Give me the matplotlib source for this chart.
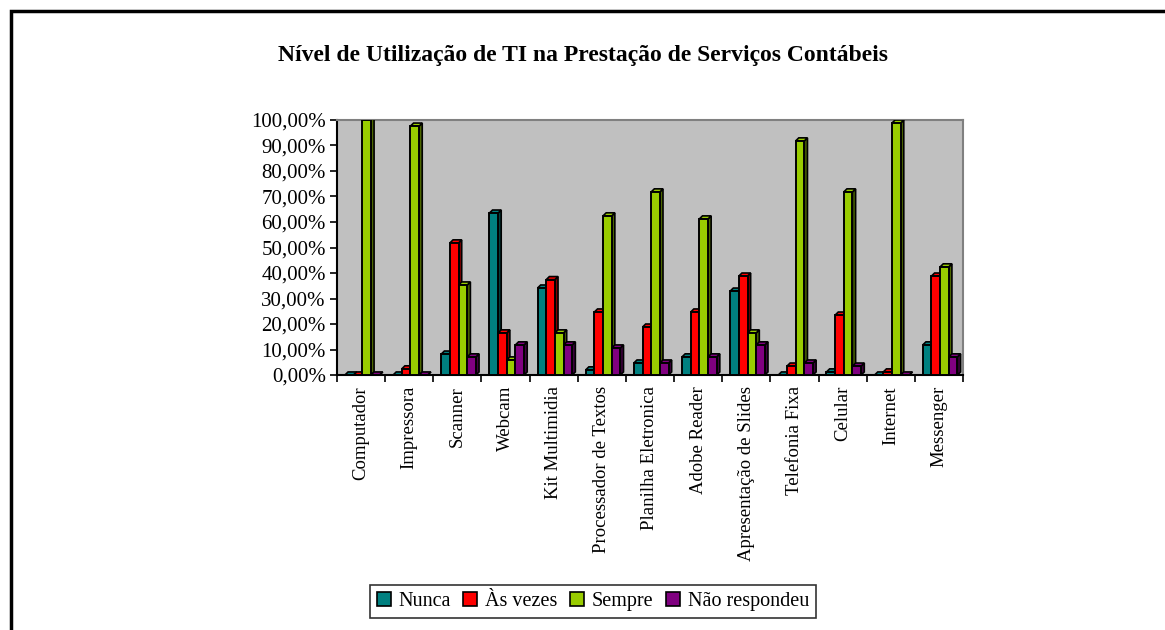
import matplotlib.pyplot as plt
from matplotlib.patches import Polygon, Patch
from matplotlib.lines import Line2D
import numpy as np

plt.rcParams['font.family'] = ['Liberation Serif', 'DejaVu Serif']

# dados
categorias = ['Computador', 'Impressora', 'Scanner', 'Webcam', 'Kit Multimidia',
              'Processador de Textos', 'Planilha Eletronica', 'Adobe Reader',
              'Apresentação de Slides', 'Telefonia Fixa', 'Celular', 'Internet',
              'Messenger']
nunca = [0, 0, 8.2, 63.5, 34.1, 2.0, 4.7, 7.1, 32.9, 0, 1.2, 0, 11.8]
as_vezes = [0, 2.4, 51.8, 16.5, 37.4, 24.7, 18.8, 24.7, 38.8, 3.5, 23.5, 1.2, 38.8]
sempre = [100, 97.6, 35.3, 5.9, 16.5, 62.4, 71.8, 61.2, 16.5, 91.8, 71.8, 98.8, 42.4]
nao_resp = [0, 0, 7.1, 11.8, 11.8, 10.6, 4.7, 7.1, 11.8, 4.7, 3.5, 0, 7.1]

serie_nomes = ['Nunca', 'Às vezes', 'Sempre', 'Não respondeu']
serie_valori = [nunca, as_vezes, sempre, nao_resp]
cores = ['#008080', '#FF0000', '#99CC00', '#800080']
cores_lado = ['#004040', '#800000', '#4C6600', '#400040']

fig = plt.figure(figsize=(11.65, 6.3), dpi=100)
ax = fig.add_axes([337 / 1165, 1 - 375 / 630, 626 / 1165, 255 / 630])
ax.set_facecolor('#C0C0C0')

x = np.arange(len(categorias))
larg = 0.18
dx = 0.065   # profondità 3D (orizzontale)
dy = 1.2     # profondità 3D (verticale)

for k, (vals, c, cl) in enumerate(zip(serie_valori, cores, cores_lado)):
    left = x - 0.5 + 0.165 + k * larg
    z = 3 + k
    ax.bar(left, vals, width=larg, align='edge', color=c, edgecolor='black',
           linewidth=1.4, zorder=z + 0.2)
    for l, h in zip(left, vals):
        r = l + larg
        lato = Polygon([(r, 0), (r + dx, dy), (r + dx, h + dy), (r, h)],
                       closed=True, facecolor=cl, edgecolor='black', lw=1.2, zorder=z)
        cima = Polygon([(l, h), (l + dx, h + dy), (r + dx, h + dy), (r, h)],
                       closed=True, facecolor=c, edgecolor='black', lw=1.2, zorder=z + 0.1)
        ax.add_patch(lato)
        ax.add_patch(cima)

ax.set_xlim(-0.5, len(categorias) - 0.5)
ax.set_ylim(0, 100)
ax.set_yticks(np.arange(0, 101, 10))
ax.set_yticklabels([f'{v},00%' for v in range(0, 101, 10)], fontsize=15)
ax.set_xticks(x)
ax.set_xticklabels(categorias, rotation=90, fontsize=13.5)
ax.set_xticks(np.arange(-0.5, len(categorias)), minor=True)
ax.tick_params(axis='x', which='major', length=0, pad=8)
ax.tick_params(axis='x', which='minor', length=5, direction='out', width=1.2)
ax.tick_params(axis='y', length=5, width=1.2, direction='out', pad=3)

for s in ['left', 'bottom']:
    ax.spines[s].set_color('black')
    ax.spines[s].set_linewidth(1.5)
for s in ['top', 'right']:
    ax.spines[s].set_color('#808080')
    ax.spines[s].set_linewidth(1.5)

fig.text(0.5, 1 - 55 / 630, 'Nível de Utilização de TI na Prestação de Serviços Contábeis',
         ha='center', va='center', fontsize=17, fontweight='bold')

maniglie = [Patch(facecolor=c, edgecolor='black', linewidth=1.2) for c in cores]
leg = fig.legend(maniglie, serie_nomes, loc='center', bbox_to_anchor=(0.509, 0.045),
                 ncol=4, fontsize=14.5, frameon=True, fancybox=False,
                 handlelength=0.7, handleheight=0.7, handletextpad=0.4,
                 columnspacing=0.6, borderpad=0.35)
leg.get_frame().set_edgecolor('black')
leg.get_frame().set_linewidth(1.2)

# cornice esterna (solo sinistra e sopra)
xb = 11 / 1165
yb = 1 - 11 / 630
fig.add_artist(Line2D([xb, xb, 1.0], [0.0, yb, yb], transform=fig.transFigure,
                      color='black', linewidth=2.5, solid_joinstyle='miter'))

plt.savefig('out.png', dpi=100)
